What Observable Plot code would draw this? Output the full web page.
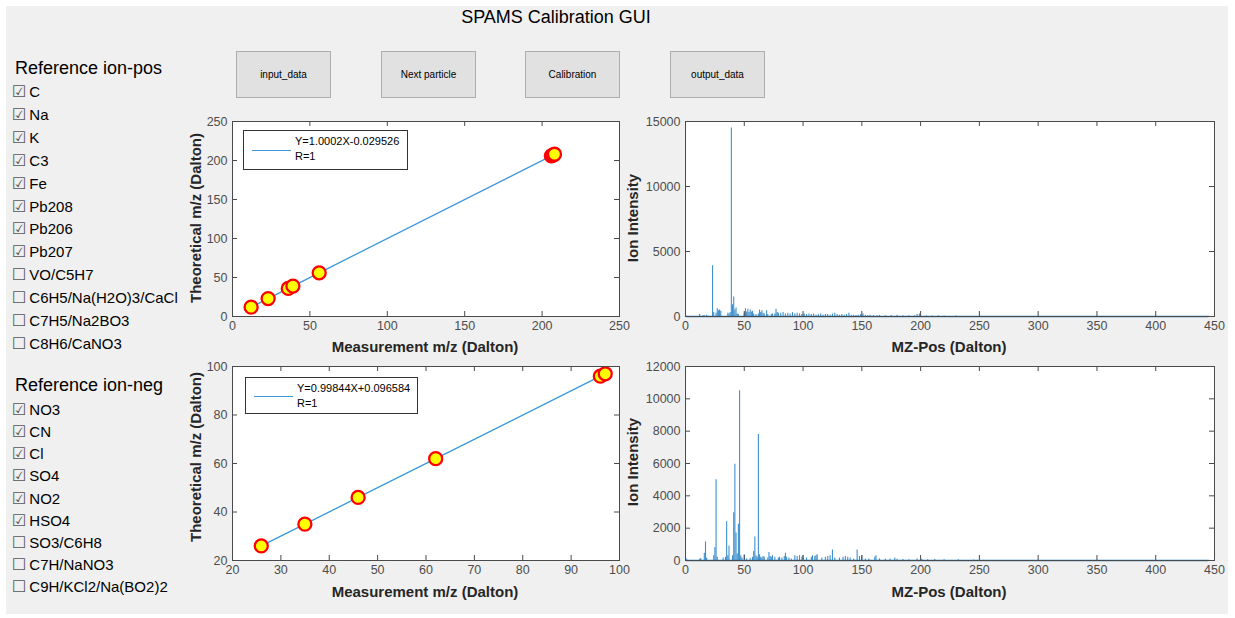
<!DOCTYPE html>
<html>
<head>
<meta charset="utf-8">
<script src="https://cdn.jsdelivr.net/npm/d3@7"></script>
<script src="https://cdn.jsdelivr.net/npm/@observablehq/plot@0.6"></script>
<style>
  html, body { margin: 0; padding: 0; background: #ffffff; }
  body { width: 1235px; height: 618px; position: relative; overflow: hidden; font-family: Arial, "Liberation Sans", sans-serif; }
  #panel { position: absolute; left: 6px; top: 6px; width: 1222px; height: 608px; background: #f0f0f0; }
  .title { font-size: 18px; color: #000; white-space: nowrap; transform: translate(-50%, -50%); }
  .btn { background: #e1e1e1; border: 1px solid #adadad; box-sizing: border-box; font-size: 10px; color: #000;
         display: flex; align-items: center; justify-content: center; }
  .grouptitle { font-size: 18px; color: #000; white-space: nowrap; line-height: 20px; }
  .item { font-size: 15px; color: #000; white-space: nowrap; line-height: 18px; display: flex; align-items: center; }
  .item .box { font-family: "DejaVu Sans", sans-serif; font-size: 16px; color: #555; margin-right: 3px; line-height: 18px; }
  .axlabel { font-size: 15px; font-weight: bold; color: #262626; white-space: nowrap; }
  .legend { background: #fff; border: 1px solid #333; box-sizing: border-box; font-size: 11px; color: #000; }
  .legend .sample { position: absolute; height: 0; border-top: 1.3px solid #3d98d8; }
  .legend .t { position: absolute; white-space: nowrap; line-height: 13px; }
</style>
</head>
<body>
<div id="panel"></div>
<div id="root"></div>
<script>
// ---------------- data ----------------
const guiTitle = "SPAMS Calibration GUI";
const buttonLabels = ["input_data", "Next particle", "Calibration", "output_data"];

const posGroupTitle = "Reference ion-pos";
const posIons = ["C", "Na", "K", "C3", "Fe", "Pb208", "Pb206", "Pb207", "VO/C5H7", "C6H5/Na(H2O)3/CaCl", "C7H5/Na2BO3", "C8H6/CaNO3"];
const posChecked = [1, 1, 1, 1, 1, 1, 1, 1, 0, 0, 0, 0];
const negGroupTitle = "Reference ion-neg";
const negIons = ["NO3", "CN", "Cl", "SO4", "NO2", "HSO4", "SO3/C6H8", "C7H/NaNO3", "C9H/KCl2/Na(BO2)2"];
const negChecked = [1, 1, 1, 1, 1, 1, 0, 0, 0];

// calibration points (checked ions): measured vs theoretical m/z
const posCalIons = ["C", "Na", "K", "C3", "Fe", "Pb208", "Pb206", "Pb207"];
const posMeasured = [12.03, 23.02, 39.02, 36.01, 56.0, 208.0, 206.0, 207.0];
const posTheoretical = [12.0, 23.0, 39.0, 36.0, 56.0, 208.0, 206.0, 207.0];
const posFitText = ["Y=1.0002X-0.029526", "R=1"];

const negCalIons = ["NO3", "CN", "Cl", "SO4", "NO2", "HSO4"];
const negMeasured = [62.0, 25.95, 34.96, 96.04, 45.97, 97.05];
const negTheoretical = [62.0, 26.0, 35.0, 96.0, 46.0, 97.0];
const negFitText = ["Y=0.99844X+0.096584", "R=1"];

// axis ticks
const calPosXTicks = [0, 50, 100, 150, 200, 250];
const calPosYTicks = [0, 50, 100, 150, 200, 250];
const calNegXTicks = [20, 30, 40, 50, 60, 70, 80, 90, 100];
const calNegYTicks = [20, 40, 60, 80, 100];
const specXTicks = [0, 50, 100, 150, 200, 250, 300, 350, 400, 450];
const specPosYTicks = [0, 5000, 10000, 15000];
const specNegYTicks = [0, 2000, 4000, 6000, 8000, 10000, 12000];

// axis titles
const calXLabel = "Measurement m/z (Dalton)";
const calYLabel = "Theoretical m/z (Dalton)";
const specXLabel = "MZ-Pos (Dalton)";
const specYLabel = "Ion Intensity";

// positive-ion spectrum (m/z, intensity)
const posMz = [1, 12, 15, 16, 18, 23, 24, 26, 27, 28, 29, 30, 36, 37, 38, 39, 40, 41, 42, 43, 44, 45,
  50, 51, 52, 53, 54, 55, 56, 57, 58, 60, 62, 63, 64, 65, 66, 67, 69, 70, 73, 74, 76, 77, 78, 79,
  81, 83, 85, 87, 89, 91, 93, 95, 97, 99, 101, 103, 105, 107, 109, 111, 113, 115, 117, 119, 121,
  123, 125, 127, 129, 131, 133, 135, 137, 139, 141, 143, 145, 147, 149, 151, 153, 155, 157, 160,
  163, 165, 170, 175, 180, 185, 190, 195, 197, 199, 205, 210, 215, 220, 230, 445];
const posInt = [20, 150, 80, 60, 100, 3900, 300, 250, 600, 450, 500, 400, 250, 200, 300, 14500, 900, 1500, 500, 650, 200, 150,
  250, 600, 350, 550, 300, 500, 350, 400, 200, 150, 200, 500, 300, 450, 250, 200, 450, 150, 150, 200, 200, 550, 300, 250,
  250, 300, 200, 250, 200, 300, 200, 250, 200, 150, 200, 150, 200, 150, 200, 100, 150, 200, 100, 150, 150,
  100, 200, 250, 150, 100, 150, 100, 150, 250, 100, 100, 80, 100, 150, 200, 100, 80, 100, 80,
  60, 80, 60, 70, 100, 60, 50, 60, 150, 200, 50, 40, 60, 40, 30, 10];

// negative-ion spectrum (m/z, intensity)
const negMz = [1, 12, 13, 16, 17, 18, 24, 25, 26, 27, 32, 34, 35, 36, 37, 40, 41, 42, 43, 44, 45, 46, 47, 48, 50,
  52, 55, 57, 58, 59, 60, 61, 62, 63, 64, 65, 66, 67, 70, 71, 72, 73, 74, 76, 79, 80, 82, 84, 85, 86, 88, 90,
  93, 95, 97, 99, 100, 103, 107, 108, 110, 111, 112, 116, 119, 121, 123, 125, 127, 131, 134, 136, 138, 140,
  143, 146, 148, 150, 153, 156, 161, 162, 165, 170, 174, 178, 180, 185, 190, 197, 201, 206, 212, 220, 232, 245, 445];
const negInt = [100, 80, 120, 450, 1150, 150, 300, 800, 5000, 200, 150, 200, 2400, 300, 880, 300, 2950, 5950, 1700, 400, 2250, 10500, 300, 150, 350,
  100, 120, 200, 550, 1450, 300, 200, 7800, 350, 200, 150, 250, 200, 150, 500, 250, 200, 300, 200, 150, 200, 150, 250, 450, 200, 150, 100,
  300, 250, 300, 200, 300, 150, 200, 300, 250, 300, 350, 150, 200, 250, 300, 650, 150, 150, 200, 250, 200, 150,
  100, 650, 250, 300, 100, 100, 200, 300, 100, 80, 100, 150, 80, 60, 50, 100, 80, 50, 60, 40, 40, 30, 10];

// ---------------- helpers ----------------
const root = document.getElementById("root");
const AX = "#4a4a4a";
const LINE = "#3d98d8";
const SPEC = "#1f7cc4";
const plotStyle = {fontFamily: "Arial, 'Liberation Sans', sans-serif", fontSize: "12.5px", color: "#4d4d4d", background: "transparent", overflow: "visible"};

function place(el, left, top) {
  el.style.position = "absolute";
  el.style.left = left + "px";
  el.style.top = top + "px";
  root.appendChild(el);
  return el;
}
function div(cls, text) {
  const d = document.createElement("div");
  if (cls) d.className = cls;
  if (text != null) d.textContent = text;
  return d;
}

function frameTicks(xTicks, yTicks, innerW, innerH) {
  return [
    Plot.ruleX(xTicks, {x: d => d, insetTop: innerH - 5, stroke: AX}),
    Plot.ruleX(xTicks, {x: d => d, insetBottom: innerH - 5, stroke: AX}),
    Plot.ruleY(yTicks, {y: d => d, insetRight: innerW - 5, stroke: AX}),
    Plot.ruleY(yTicks, {y: d => d, insetLeft: innerW - 5, stroke: AX}),
    Plot.axisX(xTicks, {tickSize: 0, tickPadding: 5, tickFormat: "d", fill: "#4d4d4d"}),
    Plot.axisY(yTicks, {tickSize: 0, tickPadding: 5, tickFormat: "d", fill: "#4d4d4d"}),
    Plot.frame({stroke: AX})
  ];
}

function calPlot({meas, theo, names, xDomain, yDomain, xTicks, yTicks, width, height, m}) {
  const data = d3.sort(names.map((n, i) => ({ion: n, meas: meas[i], theo: theo[i]})), d => d.meas);
  const innerW = width - m.l - m.r, innerH = height - m.t - m.b;
  return Plot.plot({
    width, height, marginLeft: m.l, marginRight: m.r, marginTop: m.t, marginBottom: m.b,
    style: plotStyle,
    x: {domain: xDomain, label: null},
    y: {domain: yDomain, label: null},
    marks: [
      Plot.frame({fill: "white", stroke: null}),
      Plot.line(data, {x: "meas", y: "theo", stroke: LINE, strokeWidth: 1.3}),
      Plot.dot(data, {x: "meas", y: "theo", r: 6.5, fill: "#ffff00", stroke: "#ff0000", strokeWidth: 2.3}),
      ...frameTicks(xTicks, yTicks, innerW, innerH)
    ]
  });
}

function specPlot({mz, inten, xDomain, yDomain, xTicks, yTicks, width, height, m}) {
  const data = mz.map((x, i) => ({mz: x, i: inten[i]}));
  const innerW = width - m.l - m.r, innerH = height - m.t - m.b;
  return Plot.plot({
    width, height, marginLeft: m.l, marginRight: m.r, marginTop: m.t, marginBottom: m.b,
    style: plotStyle,
    x: {domain: xDomain, label: null},
    y: {domain: yDomain, label: null},
    marks: [
      Plot.frame({fill: "white", stroke: null}),
      Plot.ruleX(data, {x: "mz", y1: 0, y2: "i", stroke: SPEC, strokeWidth: 1.1, strokeOpacity: 0.85}),
      Plot.ruleY([0], {x1: d3.min(mz), x2: d3.max(mz), stroke: SPEC, strokeWidth: 1.4}),
      ...frameTicks(xTicks, yTicks, innerW, innerH)
    ]
  });
}

function legend(left, top, w, h, lines) {
  const box = div("legend");
  box.style.width = w + "px";
  box.style.height = h + "px";
  const s = div("sample");
  s.style.left = "8px"; s.style.top = (h / 2 - 1) + "px"; s.style.width = "39px";
  box.appendChild(s);
  lines.forEach((t, i) => {
    const e = div("t", t);
    e.style.left = "51px";
    e.style.top = (4 + i * 15) + "px";
    box.appendChild(e);
  });
  place(box, left, top);
}

function axTitle(text, cx, cy, rotate) {
  const e = div("axlabel", text);
  e.style.transform = "translate(-50%, -50%)" + (rotate ? " rotate(-90deg)" : "");
  place(e, cx, cy);
}

// ---------------- layout ----------------
place(div("title", guiTitle), 556, 17);

const btnLefts = [236, 381, 525, 670];
buttonLabels.forEach((b, i) => {
  const e = div("btn", b);
  e.style.width = "95px"; e.style.height = "47px";
  place(e, btnLefts[i], 51);
});

function group(title, items, checked, titleY, firstY, step) {
  const t = div("grouptitle", title);
  place(t, 15, titleY - 10);
  items.forEach((it, i) => {
    const e = div("item");
    const bx = document.createElement("span");
    bx.className = "box";
    bx.textContent = checked[i] ? "\u2611" : "\u2610";
    e.appendChild(bx);
    e.appendChild(document.createTextNode(it));
    place(e, 12, firstY + i * step - 9);
  });
}
group(posGroupTitle, posIons, posChecked, 68, 92, 22.9);
group(negGroupTitle, negIons, negChecked, 385, 410, 22.15);

const calPos = calPlot({meas: posMeasured, theo: posTheoretical, names: posCalIons,
  xDomain: [0, 250], yDomain: [0, 250], xTicks: calPosXTicks, yTicks: calPosYTicks,
  width: 450, height: 240, m: {l: 50, r: 13, t: 11, b: 34}});
place(calPos, 182, 110);

const calNeg = calPlot({meas: negMeasured, theo: negTheoretical, names: negCalIons,
  xDomain: [20, 100], yDomain: [20, 100], xTicks: calNegXTicks, yTicks: calNegYTicks,
  width: 450, height: 240, m: {l: 50, r: 13, t: 11, b: 35}});
place(calNeg, 182, 355);

const specPos = specPlot({mz: posMz, inten: posInt, xDomain: [0, 450], yDomain: [0, 15000],
  xTicks: specXTicks, yTicks: specPosYTicks, width: 600, height: 240, m: {l: 53, r: 18, t: 11, b: 34}});
place(specPos, 632, 110);

const specNeg = specPlot({mz: negMz, inten: negInt, xDomain: [0, 450], yDomain: [0, 12000],
  xTicks: specXTicks, yTicks: specNegYTicks, width: 600, height: 240, m: {l: 53, r: 18, t: 11, b: 35}});
place(specNeg, 632, 355);

legend(243, 130, 165, 40, posFitText);
legend(245, 377, 173, 37, negFitText);

axTitle(calXLabel, 425, 346, false);
axTitle(calXLabel, 425, 591, false);
axTitle(specXLabel, 949, 346, false);
axTitle(specXLabel, 949, 591, false);
axTitle(calYLabel, 195, 218, true);
axTitle(calYLabel, 195, 457, true);
axTitle(specYLabel, 632, 218, true);
axTitle(specYLabel, 632, 462, true);
</script>
</body>
</html>
